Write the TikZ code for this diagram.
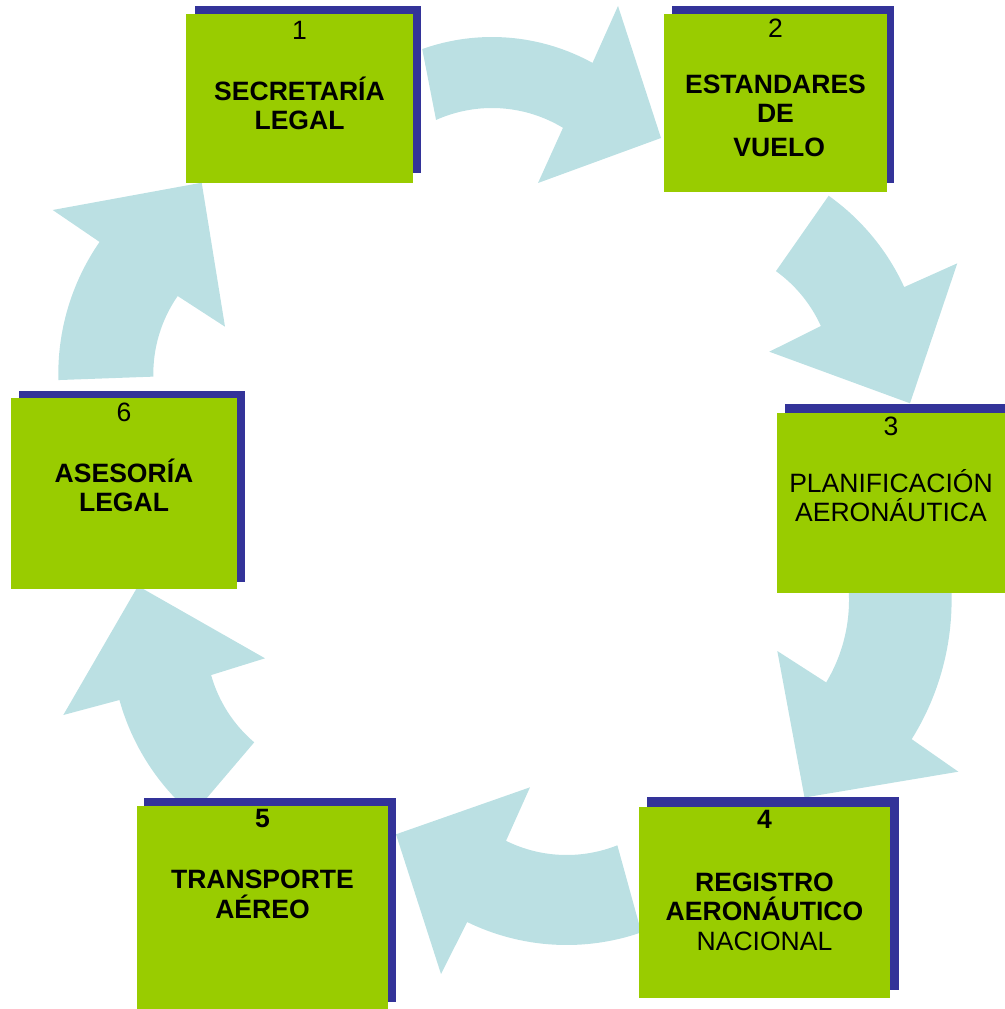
\documentclass[tikz,border=0pt]{standalone}
\usepackage{fontspec}
\setmainfont{Liberation Sans}
\usetikzlibrary{calc}

\begin{document}
\begin{tikzpicture}[x=0.75pt,y=0.75pt,yscale=-1,xscale=1,
  arrowfill/.style={fill={rgb, 255:red, 187; green, 224; blue, 227 }},
  shadowfill/.style={fill={rgb, 255:red, 51; green, 51; blue, 153 }},
  greenfill/.style={fill={rgb, 255:red, 153; green, 204; blue, 0 }},
  boxtext/.style={anchor=base,inner sep=0pt,align=center,font=\fontsize{19.9}{22.1}\selectfont},
  boldtext/.style={boxtext,font=\fontsize{19.9}{22.1}\selectfont\bfseries}]
\useasboundingbox (0,0) rectangle (1005,1009);

% centres of the curved arrows
\coordinate (c1) at (492,245);
\coordinate (c2) at (696,382.4);
\coordinate (c3) at (689,600);
\coordinate (c4) at (566.7,718);
\coordinate (c5) at (343,638);
\coordinate (c6) at (290.3,374);

%Curved Arrow 1 -> 2
\fill[arrowfill] ($(c1)+(-109.6:208)$) arc[start angle=-109.6,end angle=-61.1,radius=208] -- (618,6) -- (661,138) -- (538,183) -- ($(c1)+(-58.8:137)$) arc[start angle=-58.8,end angle=-114.1,radius=137] -- cycle ;
%Curved Arrow 2 -> 3
\fill[arrowfill] ($(c2)+(-54.6:229)$) arc[start angle=-54.6,end angle=-24.6,radius=229] -- (957.3,263.3) -- (910,403.3) -- (769.3,351.7) -- ($(c2)+(-24.3:137)$) arc[start angle=-24.3,end angle=-54.3,radius=137] -- cycle ;
%Curved Arrow 3 -> 4
\fill[arrowfill] ($(c3)+(-8:262.6)$) arc[start angle=-8,end angle=32,radius=262.6] -- (958.3,771.7) -- (804.5,797.5) -- (777.3,651) -- ($(c3)+(31:160)$) arc[start angle=31,end angle=-8,radius=160] -- cycle ;
%Curved Arrow 4 -> 5
\fill[arrowfill] ($(c4)+(70.8:227)$) arc[start angle=70.8,end angle=116,radius=227] -- (441,974) -- (396,834.3) -- (530,787.3) -- ($(c4)+(116.3:137)$) arc[start angle=116.3,end angle=68.3,radius=137] -- cycle ;
%Curved Arrow 5 -> 6
\fill[arrowfill] ($(c5)+(130.4:232)$) arc[start angle=130.4,end angle=164.5,radius=232] -- (63.3,715) -- (138,586) -- (265,658.3) -- ($(c5)+(164.3:137)$) arc[start angle=164.3,end angle=130.4,radius=137] -- cycle ;
%Curved Arrow 6 -> 1
\fill[arrowfill] ($(c6)+(178.5:232)$) arc[start angle=178.5,end angle=214.7,radius=232] -- (52.7,210) -- (201.7,182.7) -- (225,326.7) -- ($(c6)+(214.7:137)$) arc[start angle=214.7,end angle=178.9,radius=137] -- cycle ;

%Shape: Box 1
\fill[shadowfill] (195,6) rectangle (421,173) ;
\fill[greenfill] (186,14) rectangle (413,183) ;
%Shape: Box 2
\fill[shadowfill] (672,6) rectangle (894,183) ;
\fill[greenfill] (664,14) rectangle (887,192) ;
%Shape: Box 3
\fill[shadowfill] (785,404) rectangle (1013,585) ;
\fill[greenfill] (777,413) rectangle (1005,593) ;
%Shape: Box 4
\fill[shadowfill] (647,797) rectangle (899,990) ;
\fill[greenfill] (639,807) rectangle (890,998) ;
%Shape: Box 5
\fill[shadowfill] (144,798) rectangle (396,1002) ;
\fill[greenfill] (137,806) rectangle (388,1010) ;
%Shape: Box 6
\fill[shadowfill] (19,391) rectangle (245,582) ;
\fill[greenfill] (11,398) rectangle (237,589) ;

% Text Node (base = last line)
\node[boxtext] (num1) at (299.5,39.3) {1};
\node[boldtext] (lab1) at (299.5,130) {SECRETARÍA\\LEGAL};
% Text Node
\node[boxtext] (num2) at (775.5,37.5) {2};
\node[boldtext] (lab2) at (775.5,156.7) {ESTANDARES\\DE\\[3.5pt]\ VUELO};
% Text Node
\node[boxtext] (num3) at (891,435) {3};
\node[boxtext] (lab3) at (891,521.7) {PLANIFICACIÓN\\AERONÁUTICA};
% Text Node
\node[boldtext] (num4) at (764.5,828.3) {4};
\node[boxtext] (lab4) at (764.5,950) {\textbf{REGISTRO}\\\textbf{AERONÁUTICO}\\NACIONAL};
% Text Node
\node[boldtext] (num5) at (262.5,827.3) {5};
\node[boldtext] (lab5) at (262.5,918.3) {TRANSPORTE\\AÉREO};
% Text Node
\node[boxtext] (num6) at (124,421) {6};
\node[boldtext] (lab6) at (124,511.7) {ASESORÍA\\LEGAL};

\end{tikzpicture}
\end{document}
